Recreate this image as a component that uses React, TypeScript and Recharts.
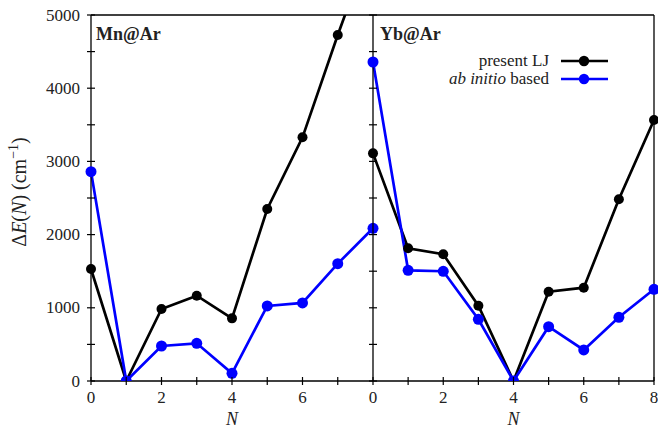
import React from 'react';
import { LineChart, Line, XAxis, YAxis, ReferenceLine, Legend, Label } from 'recharts';

const FONT = "'Liberation Serif', 'Times New Roman', serif";

const N = [0, 1, 2, 3, 4, 5, 6, 7, 8];
const mnLJ = [1530, 0, 984, 1165, 856, 2350, 3329, 4727, 6050];
const mnAbInitio = [2860, 0, 478, 515, 105, 1025, 1066, 1603, 2086];
const ybLJ = [3110, 1813, 1731, 1029, 0, 1220, 1275, 2482, 3566];
const ybAbInitio = [4358, 1512, 1499, 843, 0, 742, 424, 870, 1253];

const Y_TICKS = [0, 500, 1000, 1500, 2000, 2500, 3000, 3500, 4000, 4500, 5000];
const X_TICKS_LEFT = [0, 1, 2, 3, 4, 5, 6, 7];
const X_TICKS_RIGHT = [0, 1, 2, 3, 4, 5, 6, 7, 8];
const LEGEND_ORDER = ['present LJ', 'ab initio based'];

const mnData = N.map((n, i) => ({ n, lj: mnLJ[i], ab: mnAbInitio[i] }));
const ybData = N.map((n, i) => ({ n, lj: ybLJ[i], ab: ybAbInitio[i] }));

const textStyle = { fontFamily: FONT };

const YTick = (props: any) => {
  const { x, y, payload, showLabel } = props;
  return (
    <g>
      <line x1={x - 4} x2={x + 4} y1={y} y2={y} stroke="#000" strokeWidth={1.2} />
      {showLabel && payload.value % 1000 === 0 && (
        <text x={x - 11} y={y} dy={5.5} textAnchor="end" fontSize={17} style={textStyle} fill="#222">
          {payload.value}
        </text>
      )}
    </g>
  );
};

const XTick = (props: any) => {
  const { x, y, payload } = props;
  return (
    <g>
      <line x1={x} x2={x} y1={y - 4} y2={y + 4} stroke="#000" strokeWidth={1.2} />
      {payload.value % 2 === 0 && (
        <text x={x} y={y + 22} textAnchor="middle" fontSize={17} style={textStyle} fill="#222">
          {payload.value}
        </text>
      )}
    </g>
  );
};

const XLabel = (props: any) => {
  const { viewBox } = props;
  return (
    <text x={viewBox.x + viewBox.width / 2} y={425} textAnchor="middle" fontSize={18} fontStyle="italic" style={textStyle} fill="#222">
      N
    </text>
  );
};

const YLabel = () => (
  <text transform="translate(26,192) rotate(-90)" textAnchor="middle" fontSize={20} style={textStyle} fill="#222">
    <tspan>Δ</tspan>
    <tspan fontStyle="italic">E</tspan>
    <tspan>(</tspan>
    <tspan fontStyle="italic">N</tspan>
    <tspan>) (cm</tspan>
    <tspan fontSize={14} dy={-8}>−1</tspan>
    <tspan dy={8}>)</tspan>
  </text>
);

const LegendContent = (props: any) => {
  const items = [...(props.payload || [])].sort(
    (a: any, b: any) => LEGEND_ORDER.indexOf(a.value) - LEGEND_ORDER.indexOf(b.value)
  );
  return (
    <div style={{ fontFamily: FONT, fontSize: 17, color: '#222' }}>
      {items.map((item: any) => (
        <div key={item.value} style={{ display: 'flex', alignItems: 'center', justifyContent: 'flex-end', height: 18 }}>
          <span>
            {item.value === 'ab initio based' ? (
              <>
                <i>ab initio</i> based
              </>
            ) : (
              item.value
            )}
          </span>
          <svg width={47} height={14} style={{ marginLeft: 12 }}>
            <line x1={0} x2={47} y1={7} y2={7} stroke={item.color} strokeWidth={2.7} />
            <circle cx={23} cy={7} r={5.2} fill={item.color} />
          </svg>
        </div>
      ))}
    </div>
  );
};

const PanelTitle = ({ title, left }: { title: string; left: number }) => (
  <div
    style={{
      position: 'absolute',
      left,
      top: 24,
      fontFamily: FONT,
      fontWeight: 'bold',
      fontSize: 18,
      color: '#222',
    }}
  >
    {title}
  </div>
);

const ljDot = { r: 5, fill: '#000', stroke: '#000', strokeWidth: 0 };
const abDot = { r: 5.5, fill: '#0000ff', stroke: '#0000ff', strokeWidth: 0 };

export default function App() {
  return (
    <div style={{ position: 'absolute', left: 0, top: 0, width: 658, height: 430, background: '#fff', fontFamily: FONT }}>
      <div style={{ position: 'absolute', left: 0, top: 0 }}>
        <LineChart width={380} height={430} data={mnData} margin={{ top: 15, right: 7, bottom: 0, left: 0 }}>
          <XAxis
            dataKey="n"
            type="number"
            domain={[0, 8]}
            ticks={X_TICKS_LEFT}
            interval={0}
            height={49}
            tickSize={0}
            tickMargin={0}
            tickLine={false}
            axisLine={{ stroke: '#000', strokeWidth: 1.3 }}
            tick={<XTick />}
          >
            <Label content={<XLabel />} />
          </XAxis>
          <YAxis
            type="number"
            domain={[0, 5000]}
            ticks={Y_TICKS}
            interval={0}
            allowDataOverflow
            width={91}
            tickSize={0}
            tickMargin={0}
            tickLine={false}
            axisLine={{ stroke: '#000', strokeWidth: 1.3 }}
            tick={<YTick showLabel />}
          >
            <Label content={<YLabel />} />
          </YAxis>
          <ReferenceLine y={5000} stroke="#000" strokeWidth={1.3} />
          <Line dataKey="lj" name="present LJ" stroke="#000" strokeWidth={2.7} dot={ljDot} isAnimationActive={false} />
          <Line dataKey="ab" name="ab initio based" stroke="#0000ff" strokeWidth={2.7} dot={abDot} isAnimationActive={false} />
        </LineChart>
      </div>
      <div style={{ position: 'absolute', left: 340, top: 0 }}>
        <LineChart width={318} height={430} data={ybData} margin={{ top: 15, right: 4, bottom: 0, left: 0 }}>
          <XAxis
            dataKey="n"
            type="number"
            domain={[0, 8]}
            ticks={X_TICKS_RIGHT}
            interval={0}
            height={49}
            tickSize={0}
            tickMargin={0}
            tickLine={false}
            axisLine={{ stroke: '#000', strokeWidth: 1.3 }}
            tick={<XTick />}
          >
            <Label content={<XLabel />} />
          </XAxis>
          <YAxis
            type="number"
            domain={[0, 5000]}
            ticks={Y_TICKS}
            interval={0}
            allowDataOverflow
            width={33}
            tickSize={0}
            tickMargin={0}
            tickLine={false}
            axisLine={{ stroke: '#000', strokeWidth: 1.3 }}
            tick={<YTick />}
          />
          <ReferenceLine y={5000} stroke="#000" strokeWidth={1.3} />
          <ReferenceLine x={8} stroke="#000" strokeWidth={1.3} />
          <Legend
            layout="horizontal"
            verticalAlign="middle"
            align="center"
            content={<LegendContent />}
            wrapperStyle={{ position: 'absolute', left: 60, top: 52, width: 208 }}
          />
          <Line dataKey="lj" name="present LJ" stroke="#000" strokeWidth={2.7} dot={ljDot} isAnimationActive={false} />
          <Line dataKey="ab" name="ab initio based" stroke="#0000ff" strokeWidth={2.7} dot={abDot} isAnimationActive={false} />
        </LineChart>
      </div>
      <PanelTitle title="Mn@Ar" left={96} />
      <PanelTitle title="Yb@Ar" left={380} />
    </div>
  );
}
